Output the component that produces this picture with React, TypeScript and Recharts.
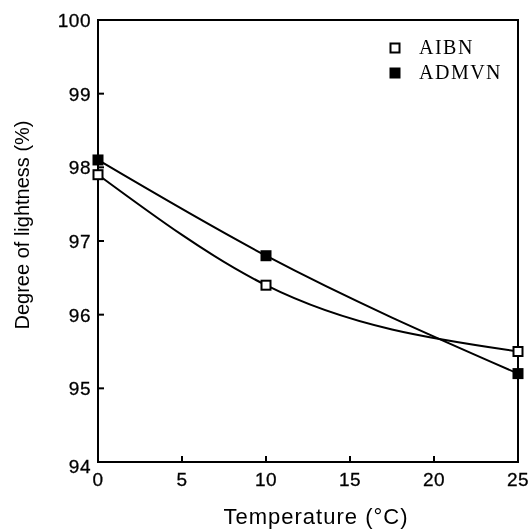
import React from "react";
import { Line, LineChart, ReferenceArea, XAxis, YAxis } from "recharts";

const temperatures = [0, 10, 25];
const aibn = [97.9, 96.4, 95.5];
const admvn = [98.1, 96.8, 95.2];
const xTicks = [0, 5, 10, 15, 20, 25];
const yTicks = [94, 95, 96, 97, 98, 99, 100];

const data = temperatures.map((t, i) => ({ t, aibn: aibn[i], admvn: admvn[i] }));

const sans = "'Liberation Sans', Arial, sans-serif";
const serif = "'Liberation Serif', 'Times New Roman', serif";
const TICK_LEN = 6;
const TICK_MARGIN = 8;

function YTick(props: any) {
  const { x, y, payload } = props;
  const ax = x + TICK_MARGIN;
  const isEnd = payload.value === 94 || payload.value === 100;
  return (
    <g>
      {!isEnd && (
        <line x1={ax} y1={y} x2={ax + TICK_LEN} y2={y} stroke="#000" strokeWidth={2} />
      )}
      <text
        x={x + 1}
        y={payload.value === 94 ? y + 6 : y + 2}
        textAnchor="end"
        dominantBaseline="middle"
        fontFamily={sans}
        fontSize={19}
        letterSpacing={0.5}
        fill="#000"
        stroke="#000"
        strokeWidth={0.3}
      >
        {payload.value}
      </text>
    </g>
  );
}

function XTick(props: any) {
  const { x, y, payload } = props;
  const ay = y - TICK_MARGIN;
  const isEnd = payload.value === 0 || payload.value === 25;
  return (
    <g>
      {!isEnd && (
        <line x1={x} y1={ay} x2={x} y2={ay - TICK_LEN} stroke="#000" strokeWidth={2} />
      )}
      <text
        x={x}
        y={y + 16}
        textAnchor="middle"
        fontFamily={sans}
        fontSize={19}
        letterSpacing={0.5}
        fill="#000"
        stroke="#000"
        strokeWidth={0.3}
      >
        {payload.value}
      </text>
    </g>
  );
}

function YLabel(props: any) {
  const { viewBox } = props;
  const cy = viewBox.y + viewBox.height / 2 - 16;
  return (
    <text
      x={24}
      y={cy}
      transform={`rotate(-90, 24, ${cy})`}
      textAnchor="middle"
      dominantBaseline="middle"
      fontFamily={sans}
      fontSize={20}
      fill="#000"
    >
      Degree of lightness (%)
    </text>
  );
}

function XLabel(props: any) {
  const { viewBox } = props;
  const cx = viewBox.x + viewBox.width / 2 + 8;
  return (
    <text
      x={cx}
      y={518}
      textAnchor="middle"
      dominantBaseline="middle"
      fontFamily={sans}
      fontSize={22}
      letterSpacing={1}
      fill="#000"
    >
      Temperature (°C)
    </text>
  );
}

function SquareDot(props: any) {
  const { cx, cy, filled } = props;
  if (cx == null || cy == null) return null;
  const s = 9;
  return (
    <rect
      x={cx - s / 2}
      y={cy - s / 2}
      width={s}
      height={s}
      fill={filled ? "#000" : "#fff"}
      stroke="#000"
      strokeWidth={2}
    />
  );
}

function LegendBox() {
  const items = [
    { label: "AIBN", filled: false },
    { label: "ADMVN", filled: true },
  ];
  return (
    <div
      style={{
        position: "absolute",
        left: 389,
        top: 35,
        fontFamily: serif,
      }}
    >
      {items.map((it) => (
        <div
          key={it.label}
          style={{ display: "flex", alignItems: "center", height: 25 }}
        >
          <svg width={12} height={12} style={{ marginRight: 18 }}>
            <rect
              x={1.5}
              y={1.5}
              width={9}
              height={9}
              fill={it.filled ? "#000" : "#fff"}
              stroke="#000"
              strokeWidth={2}
            />
          </svg>
          <span style={{ fontSize: 20, letterSpacing: 1.5, color: "#000" }}>{it.label}</span>
        </div>
      ))}
    </div>
  );
}

export default function App() {
  return (
    <div style={{ position: "fixed", left: 0, top: 0, width: 531, height: 529 }}>
      <LineChart
        width={531}
        height={529}
        data={data}
        margin={{ top: 20, right: 13, left: 0, bottom: 0 }}
      >
        <XAxis
          dataKey="t"
          type="number"
          domain={[0, 25]}
          ticks={xTicks}
          tick={<XTick />}
          tickLine={false}
          tickSize={0}
          tickMargin={TICK_MARGIN}
          axisLine={{ stroke: "#000", strokeWidth: 2 }}
          height={67}
          label={<XLabel />}
        />
        <YAxis
          type="number"
          domain={[94, 100]}
          ticks={yTicks}
          tick={<YTick />}
          tickLine={false}
          tickSize={0}
          tickMargin={TICK_MARGIN}
          axisLine={{ stroke: "#000", strokeWidth: 2 }}
          width={98}
          label={<YLabel />}
        />
        <ReferenceArea
          x1={0}
          x2={25}
          y1={94}
          y2={100}
          fill="none"
          fillOpacity={0}
          stroke="#000"
          strokeWidth={2}
          strokeOpacity={1}
        />
        <Line
          dataKey="aibn"
          name="AIBN"
          type="monotone"
          stroke="#000"
          strokeWidth={2}
          dot={<SquareDot filled={false} />}
          activeDot={false}
          isAnimationActive={false}
        />
        <Line
          dataKey="admvn"
          name="ADMVN"
          type="monotone"
          stroke="#000"
          strokeWidth={2}
          dot={<SquareDot filled />}
          activeDot={false}
          isAnimationActive={false}
        />
      </LineChart>
      <LegendBox />
    </div>
  );
}
